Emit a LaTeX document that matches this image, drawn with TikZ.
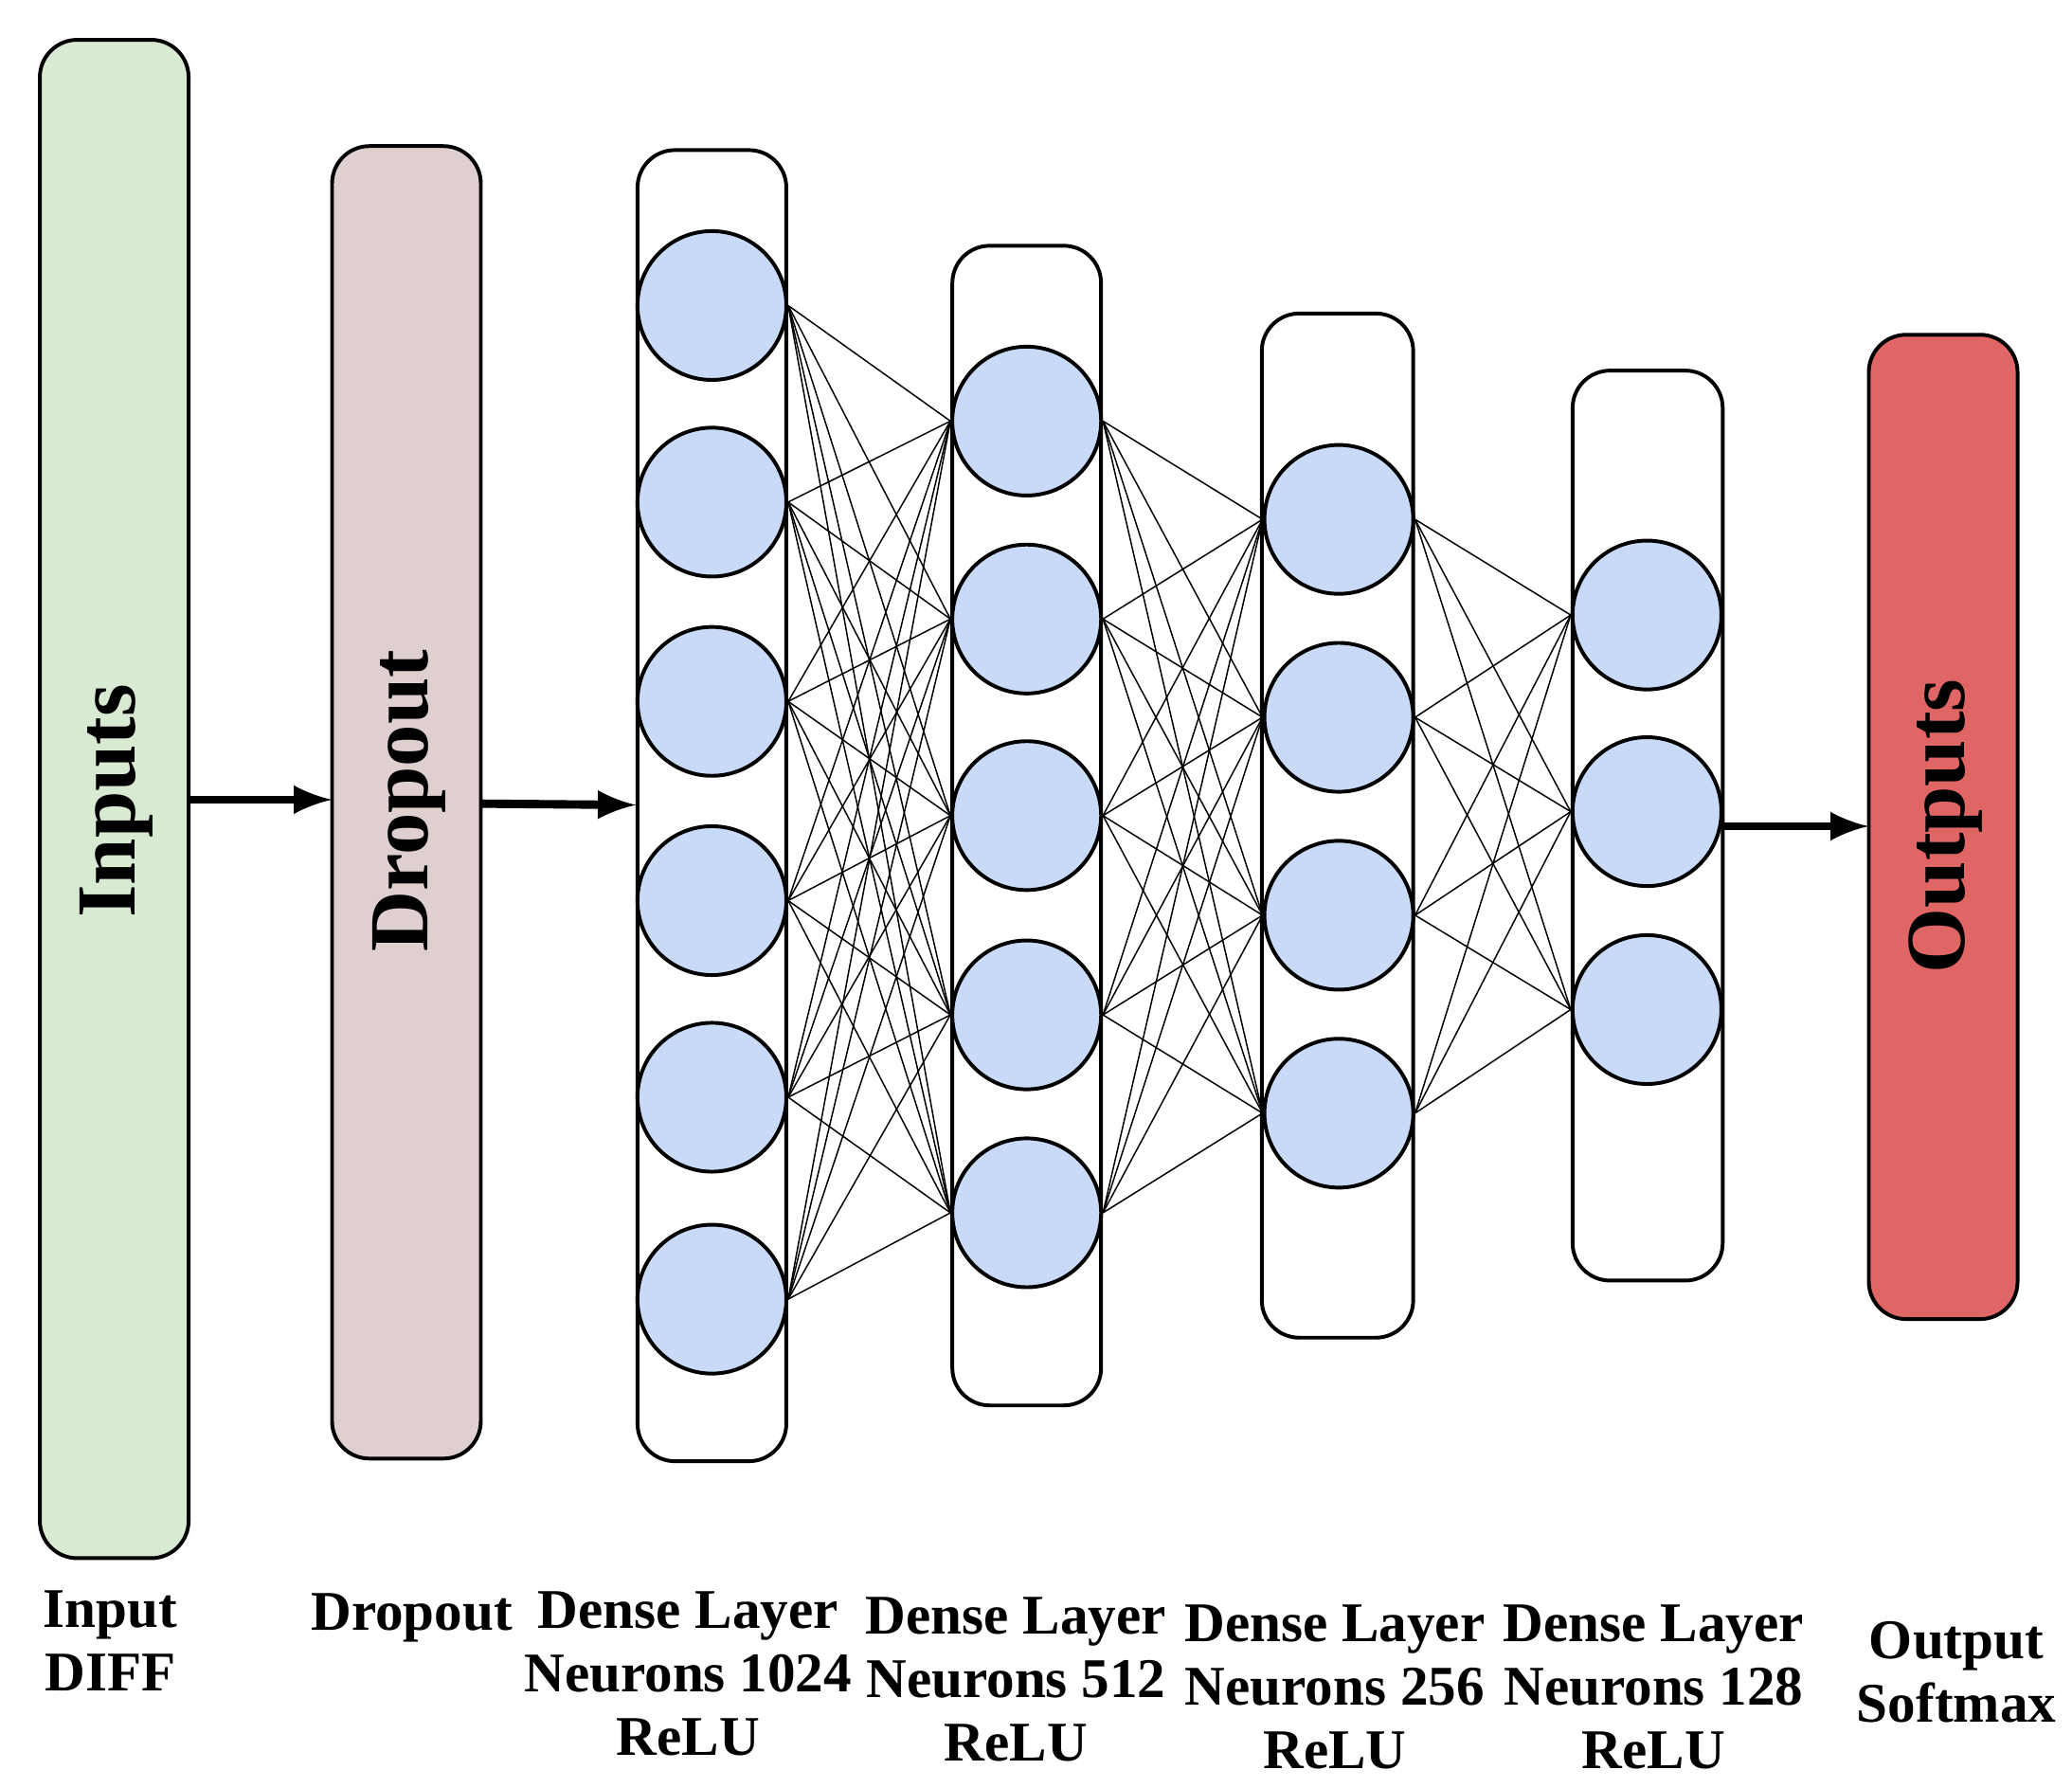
\documentclass[tikz,border=0pt]{standalone}
\usepackage{fontspec}
\setmainfont{Liberation Serif}
\begin{document}
\begin{tikzpicture}[x=0.01cm,y=-0.01cm,
  box/.style={draw=black,line width=0.8pt,rounded corners=8pt},
  neuron/.style={circle,draw=black,line width=0.8pt,fill=neur,minimum size=1.12cm,inner sep=0pt},
  conn/.style={line width=0.3pt},
  arr/.style={line width=1.8pt,-latex},
  big/.style={font=\fontsize{18}{20}\selectfont\bfseries,rotate=90},
  lab/.style={font=\fontsize{12}{13.6}\selectfont\bfseries,align=center}]
\definecolor{neur}{HTML}{C9DAF8}
\definecolor{ingreen}{HTML}{D9EAD3}
\definecolor{dropc}{HTML}{E0CFCF}
\definecolor{outred}{HTML}{E06666}
\useasboundingbox (0,0) rectangle (1560,1346);
\draw[box,fill=ingreen] (30,30) rectangle (142,1173);
\draw[box,fill=dropc] (250,110) rectangle (362,1098);
\draw[box] (480,113) rectangle (592,1100);
\draw[box] (717,185) rectangle (829,1058);
\draw[box] (950,236) rectangle (1064,1007);
\draw[box] (1184,279) rectangle (1297,964);
\draw[box,fill=outred] (1407,252) rectangle (1519,993);
\node[big] (tin) at (88,603) {Inputs};
\node[big] (tdr) at (308,603) {Dropout};
\node[big] (tout) at (1465,622) {Outputs};
\foreach \y [count=\i] in {230,378,528,678,826,978} \node[neuron] (a\i) at (536,\y) {};
\foreach \y [count=\i] in {317,466,614,764,913} \node[neuron] (b\i) at (773,\y) {};
\foreach \y [count=\i] in {391,540,689,838} \node[neuron] (c\i) at (1008,\y) {};
\foreach \y [count=\i] in {463,611,760} \node[neuron] (d\i) at (1240,\y) {};
\foreach \i in {1,...,6}\foreach \j in {1,...,5} \draw[conn] (a\i.east) -- (b\j.west);
\foreach \i in {1,...,5}\foreach \j in {1,...,4} \draw[conn] (b\i.east) -- (c\j.west);
\foreach \i in {1,...,4}\foreach \j in {1,...,3} \draw[conn] (c\i.east) -- (d\j.west);
\coordinate (i1) at (142,602); \coordinate (i2) at (250,602);
\coordinate (o1) at (362,605); \coordinate (o2) at (479,606);
\coordinate (p1) at (1297,622); \coordinate (p2) at (1407,622);
\draw[arr] (i1) -- (i2);
\draw[arr] (o1) -- (o2);
\draw[arr] (p1) -- (p2);
\node[lab] (l0) at (83,1235) {Input\\DIFF};
\node[lab] (l1) at (310,1218) {Dropout};
\node[lab] (l2) at (518,1260) {Dense Layer\\Neurons 1024\\ReLU};
\node[lab] (l3) at (765,1264) {Dense Layer\\Neurons 512\\ReLU};
\node[lab] (l4) at (1005,1270) {Dense Layer\\Neurons 256\\ReLU};
\node[lab] (l5) at (1245,1270) {Dense Layer\\Neurons 128\\ReLU};
\node[lab] (l6) at (1473,1259) {Output\\Softmax};
\end{tikzpicture}
\end{document}
